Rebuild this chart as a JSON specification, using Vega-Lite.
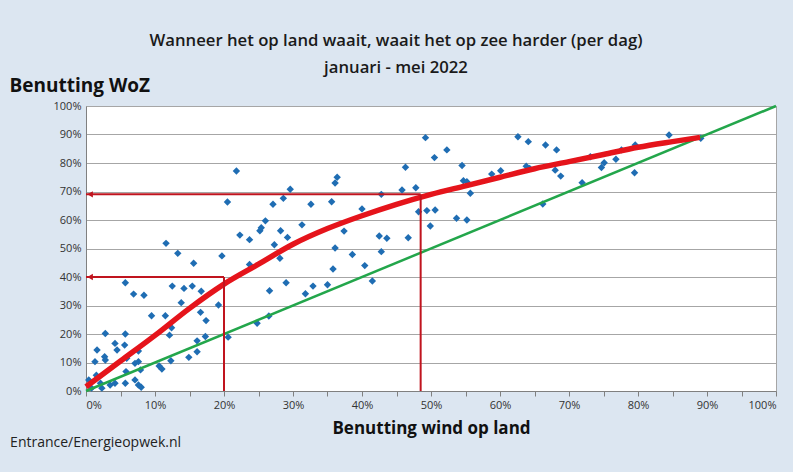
{
  "$schema": "https://vega.github.io/schema/vega-lite/v6.json",
  "width": 690,
  "height": 285,
  "autosize": {"type": "none"},
  "padding": {"left": 86, "top": 106, "right": 17, "bottom": 81},
  "background": "#dce6f1",
  "title": {
    "text": ["Wanneer het op land waait, waait het op zee harder (per dag)", "januari - mei 2022"],
    "anchor": "middle",
    "frame": "group",
    "dx": -35,
    "offset": -1,
    "font": "Open Sans",
    "fontSize": 16.7,
    "fontWeight": 600,
    "lineHeight": 27,
    "color": "#1a1a1a"
  },
  "config": {
    "view": {"fill": "white", "stroke": "#a6a6a6", "strokeWidth": 1},
    "font": "Open Sans",
    "axisX": {
      "values": [0, 10, 20, 30, 40, 50, 60, 70, 80, 90, 100],
      "labelExpr": "datum.value + '%'",
      "grid": false,
      "titleFontSize": 17,
      "titleFontWeight": "bold",
      "titleColor": "#111111",
      "titlePadding": 10,
      "labelFontSize": 11,
      "labelColor": "#333333",
      "labelPadding": 3,
      "tickSize": 5,
      "tickColor": "#808080",
      "domainColor": "#808080"
    },
    "axisY": {
      "values": [0, 10, 20, 30, 40, 50, 60, 70, 80, 90, 100],
      "labelExpr": "datum.value + '%'",
      "grid": true,
      "gridColor": "#a6a6a6",
      "titleAngle": 0,
      "titleAlign": "left",
      "titleBaseline": "bottom",
      "titleX": -77,
      "titleY": -11,
      "titleFontSize": 19,
      "titleFontWeight": "bold",
      "titleColor": "#111111",
      "labelFontSize": 11,
      "labelColor": "#333333",
      "labelPadding": 5,
      "ticks": false,
      "domainColor": "#808080"
    }
  },
  "datasets": {
    "points": [
      {"land": 49.2, "zee": 88.9}, {"land": 50.5, "zee": 81.9}, {"land": 52.3, "zee": 84.6}, {"land": 54.5, "zee": 79.1},
      {"land": 54.7, "zee": 73.8}, {"land": 55.2, "zee": 73.4}, {"land": 55.7, "zee": 69.4}, {"land": 48.2, "zee": 62.9},
      {"land": 49.4, "zee": 63.3}, {"land": 50.6, "zee": 63.5}, {"land": 49.9, "zee": 57.9}, {"land": 53.7, "zee": 60.6},
      {"land": 55.2, "zee": 60.0}, {"land": 58.8, "zee": 76.1}, {"land": 60.1, "zee": 77.3}, {"land": 62.6, "zee": 89.2},
      {"land": 64.1, "zee": 87.5}, {"land": 63.8, "zee": 78.9}, {"land": 64.3, "zee": 78.1}, {"land": 66.6, "zee": 86.3},
      {"land": 68.2, "zee": 84.6}, {"land": 66.2, "zee": 65.6}, {"land": 68.0, "zee": 77.5}, {"land": 68.8, "zee": 75.4},
      {"land": 71.9, "zee": 73.1}, {"land": 73.1, "zee": 82.2}, {"land": 74.7, "zee": 78.4}, {"land": 75.1, "zee": 80.1},
      {"land": 76.8, "zee": 81.3}, {"land": 77.6, "zee": 84.6}, {"land": 79.6, "zee": 86.3}, {"land": 79.5, "zee": 76.6},
      {"land": 84.5, "zee": 89.8}, {"land": 89.1, "zee": 88.7}, {"land": 46.3, "zee": 78.5}, {"land": 47.8, "zee": 71.3},
      {"land": 45.8, "zee": 70.5}, {"land": 42.8, "zee": 69.0}, {"land": 46.7, "zee": 53.8}, {"land": 42.5, "zee": 54.4},
      {"land": 43.6, "zee": 53.6}, {"land": 42.8, "zee": 48.9}, {"land": 40.0, "zee": 63.9}, {"land": 36.4, "zee": 75.0},
      {"land": 36.1, "zee": 73.0}, {"land": 35.6, "zee": 66.4}, {"land": 32.6, "zee": 65.5}, {"land": 29.6, "zee": 70.8},
      {"land": 28.6, "zee": 67.6}, {"land": 27.1, "zee": 65.5}, {"land": 26.0, "zee": 59.7}, {"land": 25.4, "zee": 57.3},
      {"land": 25.2, "zee": 56.2}, {"land": 23.7, "zee": 53.1}, {"land": 22.3, "zee": 54.7}, {"land": 27.3, "zee": 51.3},
      {"land": 28.2, "zee": 56.2}, {"land": 29.2, "zee": 53.9}, {"land": 31.3, "zee": 58.3}, {"land": 28.1, "zee": 46.6},
      {"land": 37.4, "zee": 56.1}, {"land": 36.1, "zee": 50.2}, {"land": 38.6, "zee": 47.9}, {"land": 35.8, "zee": 42.8},
      {"land": 40.4, "zee": 44.0}, {"land": 41.5, "zee": 38.6}, {"land": 26.6, "zee": 35.2}, {"land": 29.0, "zee": 38.0},
      {"land": 32.9, "zee": 36.8}, {"land": 35.0, "zee": 37.3}, {"land": 31.8, "zee": 34.1}, {"land": 23.7, "zee": 44.4},
      {"land": 21.8, "zee": 77.2}, {"land": 20.5, "zee": 66.3}, {"land": 20.6, "zee": 18.9}, {"land": 24.8, "zee": 23.8},
      {"land": 26.5, "zee": 26.3}, {"land": 11.6, "zee": 51.8}, {"land": 13.3, "zee": 48.3}, {"land": 15.6, "zee": 44.8},
      {"land": 19.7, "zee": 47.4}, {"land": 5.7, "zee": 38.0}, {"land": 12.5, "zee": 36.8}, {"land": 14.2, "zee": 36.0},
      {"land": 15.4, "zee": 36.8}, {"land": 16.7, "zee": 35.0}, {"land": 6.9, "zee": 34.0}, {"land": 8.4, "zee": 33.6},
      {"land": 13.8, "zee": 31.0}, {"land": 19.2, "zee": 30.2}, {"land": 9.5, "zee": 26.4}, {"land": 11.5, "zee": 26.4},
      {"land": 16.6, "zee": 27.6}, {"land": 17.4, "zee": 24.7}, {"land": 12.4, "zee": 22.2}, {"land": 12.1, "zee": 19.6},
      {"land": 2.8, "zee": 20.2}, {"land": 5.7, "zee": 20.0}, {"land": 4.2, "zee": 16.7}, {"land": 4.5, "zee": 14.4},
      {"land": 5.6, "zee": 16.1}, {"land": 1.6, "zee": 14.4}, {"land": 2.7, "zee": 12.0}, {"land": 2.8, "zee": 10.9},
      {"land": 1.3, "zee": 10.3}, {"land": 5.9, "zee": 11.5}, {"land": 7.6, "zee": 14.0}, {"land": 12.3, "zee": 10.6},
      {"land": 10.6, "zee": 8.8}, {"land": 11.0, "zee": 7.7}, {"land": 7.1, "zee": 9.7}, {"land": 7.6, "zee": 10.3},
      {"land": 14.9, "zee": 11.8}, {"land": 16.1, "zee": 13.8}, {"land": 17.3, "zee": 19.1}, {"land": 16.1, "zee": 17.6},
      {"land": 0.4, "zee": 3.9}, {"land": 2.1, "zee": 2.7}, {"land": 2.3, "zee": 1.0}, {"land": 3.5, "zee": 2.1},
      {"land": 4.2, "zee": 2.7}, {"land": 5.7, "zee": 2.7}, {"land": 7.1, "zee": 3.9}, {"land": 7.6, "zee": 2.1},
      {"land": 8.0, "zee": 1.3}, {"land": 7.9, "zee": 7.4}, {"land": 5.8, "zee": 6.8}, {"land": 0.8, "zee": 1.0},
      {"land": 1.5, "zee": 5.5}
    ],
    "trend": [
      {"land": 0, "zee": 1.5}, {"land": 5, "zee": 10.5}, {"land": 10, "zee": 19.5}, {"land": 15, "zee": 29},
      {"land": 20, "zee": 37.5}, {"land": 25, "zee": 44.5}, {"land": 30, "zee": 51.5}, {"land": 35, "zee": 57},
      {"land": 40, "zee": 61.5}, {"land": 45, "zee": 65.5}, {"land": 50, "zee": 69}, {"land": 55, "zee": 72},
      {"land": 60, "zee": 75}, {"land": 65, "zee": 78}, {"land": 70, "zee": 80.5}, {"land": 75, "zee": 83},
      {"land": 80, "zee": 85.5}, {"land": 85, "zee": 87.5}, {"land": 89, "zee": 89}
    ],
    "diag": [{"land": 0, "zee": 0}, {"land": 100, "zee": 100}],
    "refs": [
      {"land": 0, "land2": 20, "zee": 40, "zee2": 40},
      {"land": 20, "land2": 20, "zee": 0, "zee2": 40},
      {"land": 0, "land2": 48.5, "zee": 69, "zee2": 69},
      {"land": 48.5, "land2": 48.5, "zee": 0, "zee2": 69}
    ],
    "arrows": [{"land": 0.6, "zee": 40}, {"land": 0.6, "zee": 69}],
    "credit": [{"label": "Entrance/Energieopwek.nl"}]
  },
  "layer": [
    {
      "data": {"name": "points"},
      "mark": {"type": "point", "shape": "diamond", "filled": true, "size": 55, "color": "#1f6db3", "opacity": 1},
      "encoding": {
        "x": {"field": "land", "type": "quantitative", "scale": {"domain": [0, 100], "nice": false}, "axis": {"title": "Benutting wind op land"}},
        "y": {"field": "zee", "type": "quantitative", "scale": {"domain": [0, 100], "nice": false}, "axis": {"title": "Benutting WoZ"}}
      }
    },
    {
      "data": {"name": "diag"},
      "mark": {"type": "line", "color": "#23a64b", "strokeWidth": 2.5},
      "encoding": {
        "x": {"field": "land", "type": "quantitative", "scale": {"domain": [0, 100], "nice": false}, "axis": {"title": "Benutting wind op land"}},
        "y": {"field": "zee", "type": "quantitative", "scale": {"domain": [0, 100], "nice": false}, "axis": {"title": "Benutting WoZ"}}
      }
    },
    {
      "data": {"name": "trend"},
      "mark": {"type": "line", "color": "#e5141b", "strokeWidth": 5.5, "interpolate": "monotone"},
      "encoding": {
        "x": {"field": "land", "type": "quantitative", "scale": {"domain": [0, 100], "nice": false}, "axis": {"title": "Benutting wind op land"}},
        "y": {"field": "zee", "type": "quantitative", "scale": {"domain": [0, 100], "nice": false}, "axis": {"title": "Benutting WoZ"}}
      }
    },
    {
      "data": {"name": "refs"},
      "mark": {"type": "rule", "color": "#c0141e", "strokeWidth": 2},
      "encoding": {
        "x": {"field": "land", "type": "quantitative", "scale": {"domain": [0, 100], "nice": false}, "axis": {"title": "Benutting wind op land"}},
        "y": {"field": "zee", "type": "quantitative", "scale": {"domain": [0, 100], "nice": false}, "axis": {"title": "Benutting WoZ"}},
        "x2": {"field": "land2"},
        "y2": {"field": "zee2"}
      }
    },
    {
      "data": {"name": "arrows"},
      "mark": {"type": "point", "shape": "triangle-left", "filled": true, "size": 40, "color": "#c0141e", "opacity": 1},
      "encoding": {
        "x": {"field": "land", "type": "quantitative", "scale": {"domain": [0, 100], "nice": false}, "axis": {"title": "Benutting wind op land"}},
        "y": {"field": "zee", "type": "quantitative", "scale": {"domain": [0, 100], "nice": false}, "axis": {"title": "Benutting WoZ"}}
      }
    },
    {
      "data": {"name": "credit"},
      "mark": {"type": "text", "align": "left", "baseline": "alphabetic", "fontSize": 14, "color": "#222222", "font": "Open Sans"},
      "encoding": {
        "x": {"datum": -11, "type": "quantitative", "scale": {"domain": [0, 100], "nice": false}, "axis": {"title": "Benutting wind op land"}},
        "y": {"datum": -19.8, "type": "quantitative", "scale": {"domain": [0, 100], "nice": false}, "axis": {"title": "Benutting WoZ"}},
        "text": {"field": "label", "type": "nominal"}
      }
    }
  ]
}
